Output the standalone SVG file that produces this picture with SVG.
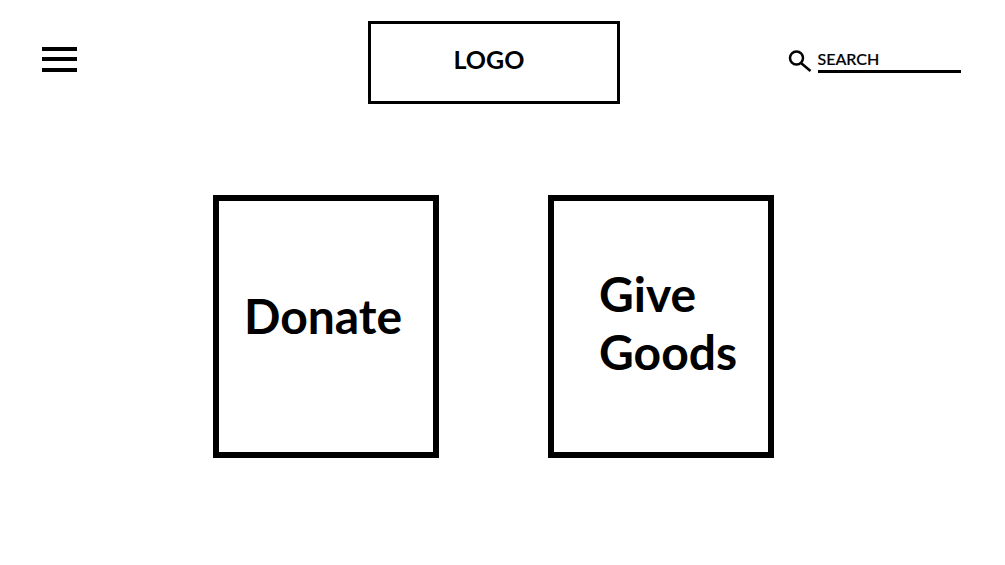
<svg xmlns="http://www.w3.org/2000/svg" width="1005" height="565" viewBox="0 0 1005 565">
<style>
text{font-family:Lato,"Liberation Sans",sans-serif;font-weight:700;fill:#000}
.big{font-size:48px}
.box{fill:#fff;stroke:#000;stroke-width:6}
</style>
<rect width="1005" height="565" fill="#fff"/>
<g id="menu"><rect x="42" y="47" width="35" height="4"/><rect x="42" y="57" width="35" height="4"/><rect x="42" y="68" width="35" height="4"/></g>
<g id="logo"><rect x="369.500" y="22.500" width="249" height="80" fill="#fff" stroke="#000" stroke-width="3"/><text x="453.500" y="69" font-size="25">LOGO</text></g>
<g id="search"><circle cx="796.500" cy="58" r="6.500" fill="none" stroke="#000" stroke-width="2.500"/><path d="M801 63L810.500 71" stroke="#000" stroke-width="2.500"/><text x="817.500" y="65" font-size="16" stroke="#000" stroke-width="0.200" style="font-weight:500">SEARCH</text><path d="M818 71.500H961" stroke="#000" stroke-width="3"/></g>
<g id="donate"><rect class="box" x="216" y="198" width="220" height="257"/><text class="big" x="244" y="334">Donate</text></g>
<g id="give-goods"><rect class="box" x="551" y="198" width="220" height="257"/><text class="big" x="599" y="312">Give</text><text class="big" x="599" y="370">Goods</text></g>
</svg>
